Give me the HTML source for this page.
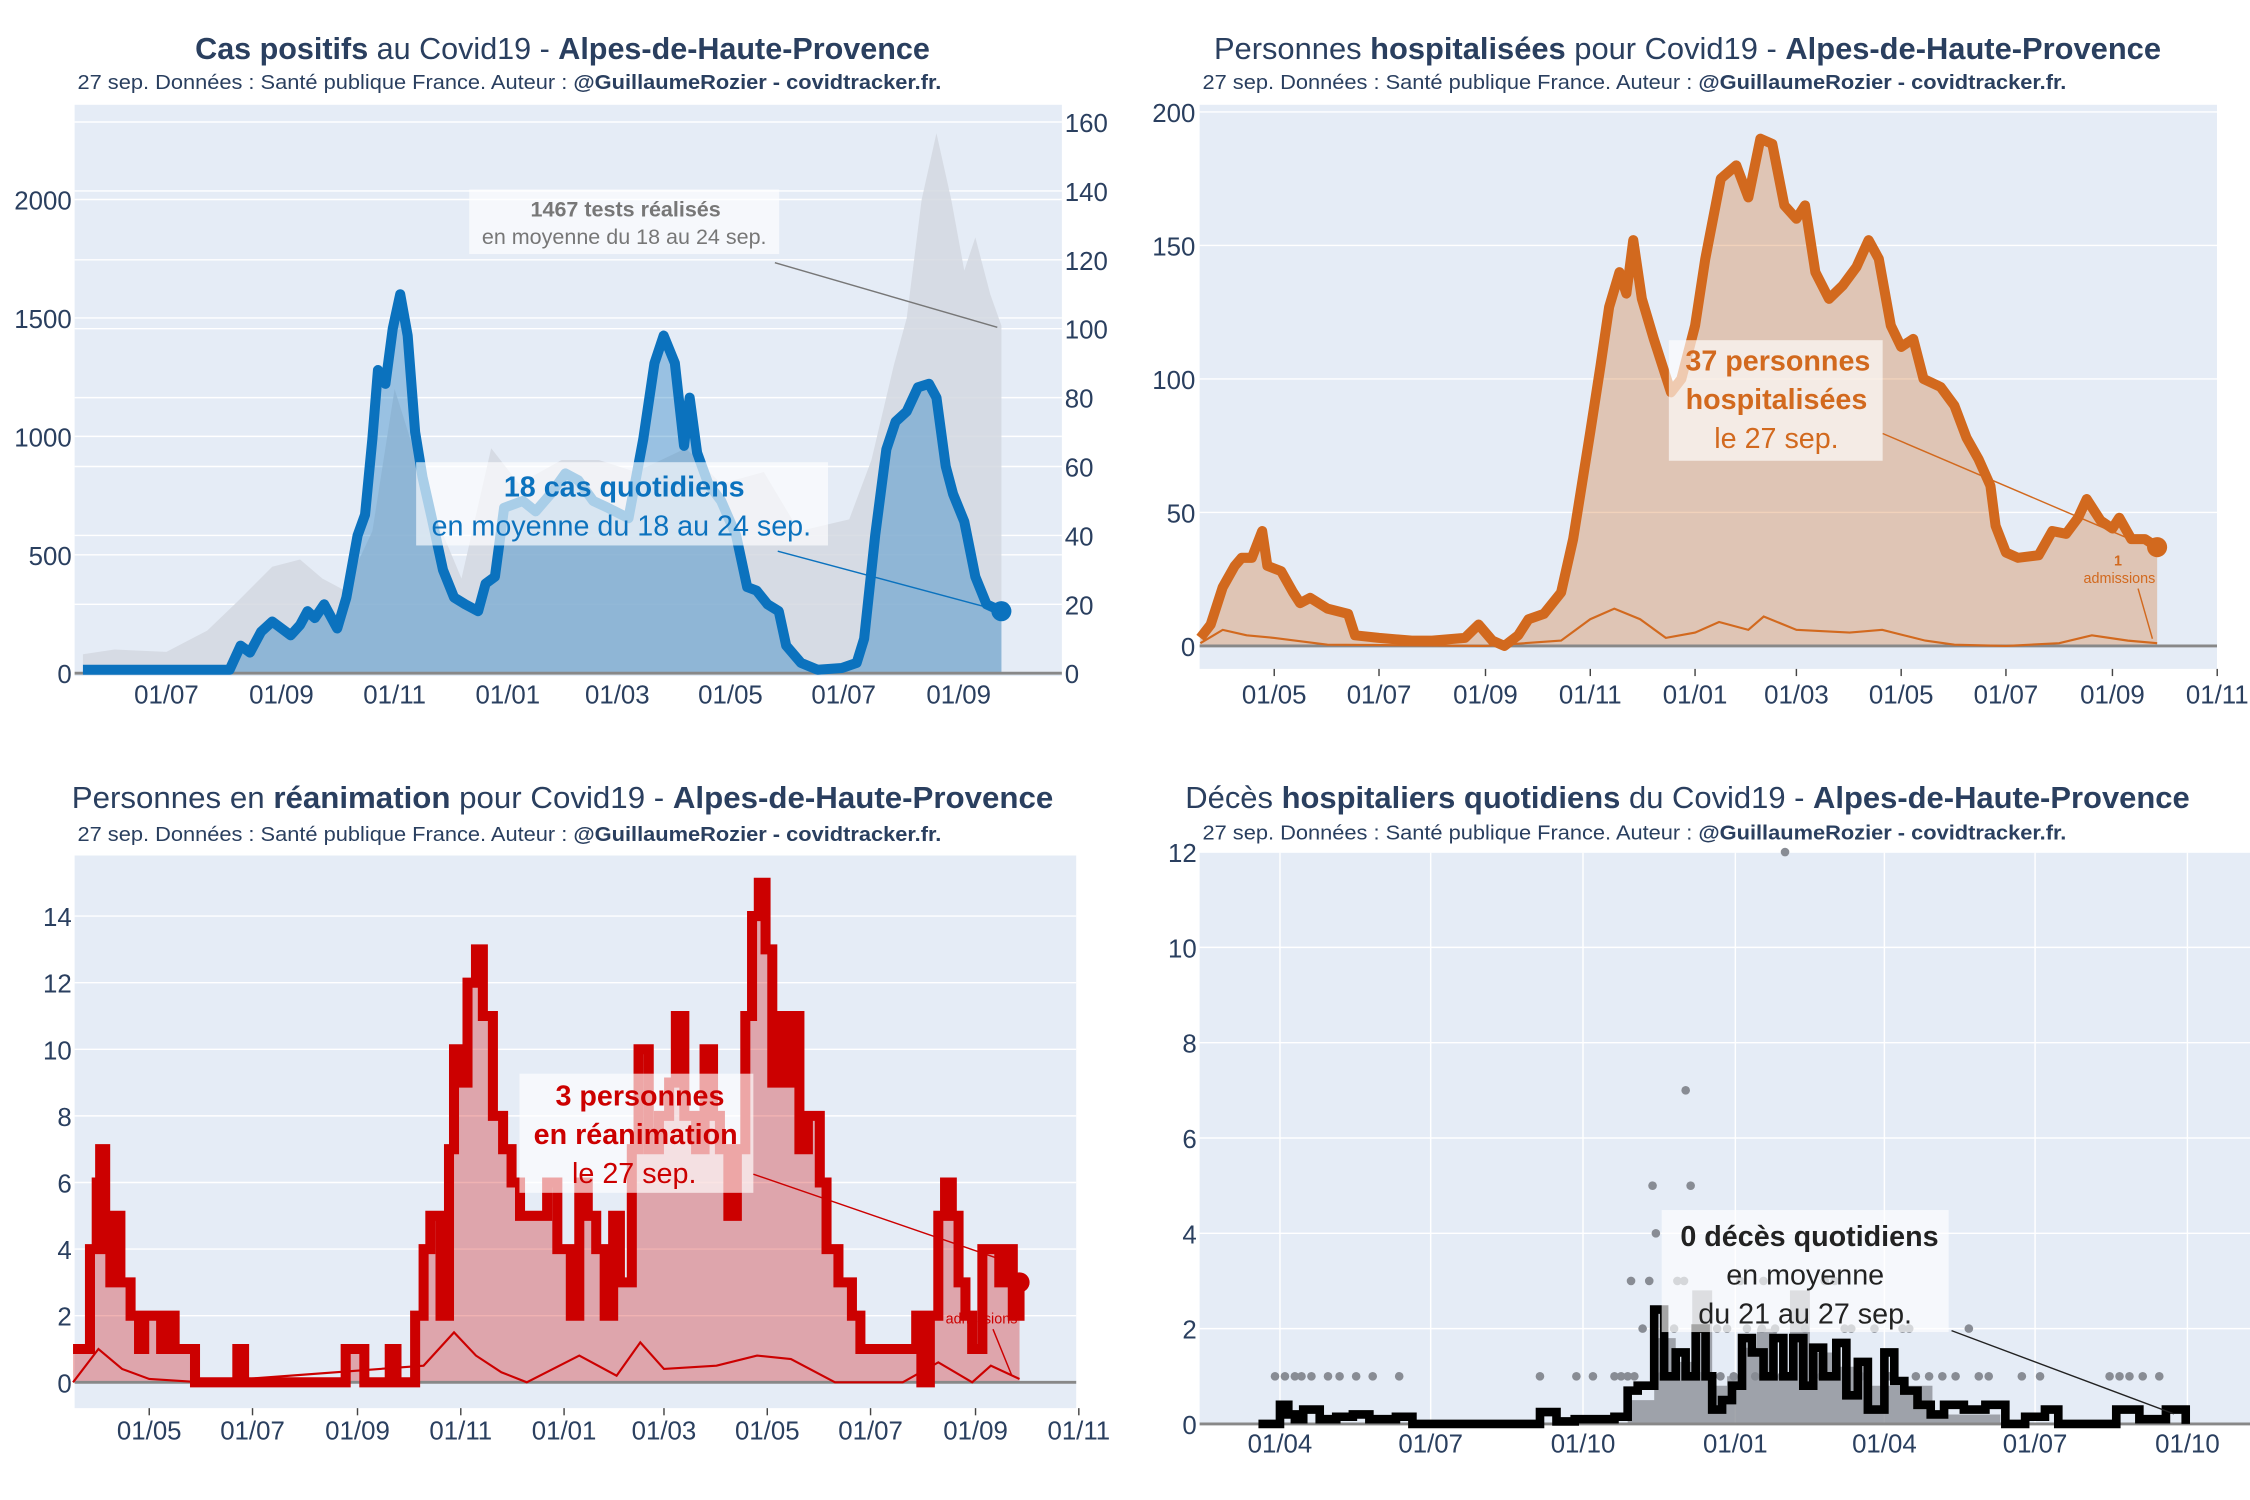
<!DOCTYPE html>
<html><head><meta charset="utf-8">
<style>
html,body{margin:0;padding:0;background:#fff;}
svg{display:block;font-family:"Liberation Sans",sans-serif;}
</style></head>
<body>
<svg id="chart" xmlns="http://www.w3.org/2000/svg" width="2250" height="1500" viewBox="0 0 1568 1045" preserveAspectRatio="none"></svg>
<script>
// ---------- Panel 1 : cas positifs ----------
const casDates = ["2020-05-17","2020-08-04","2020-08-10","2020-08-15","2020-08-21","2020-08-27","2020-09-06","2020-09-11","2020-09-15","2020-09-19","2020-09-24","2020-10-01","2020-10-06","2020-10-12","2020-10-16","2020-10-20","2020-10-23","2020-10-27","2020-10-31","2020-11-04","2020-11-08","2020-11-12","2020-11-16","2020-11-21","2020-11-27","2020-12-03","2020-12-09","2020-12-16","2020-12-20","2020-12-25","2020-12-30","2021-01-09","2021-01-16","2021-01-24","2021-02-01","2021-02-08","2021-02-16","2021-02-24","2021-03-07","2021-03-15","2021-03-21","2021-03-26","2021-04-01","2021-04-06","2021-04-09","2021-04-13","2021-04-19","2021-04-26","2021-05-04","2021-05-10","2021-05-15","2021-05-21","2021-05-27","2021-05-31","2021-06-08","2021-06-17","2021-06-30","2021-07-08","2021-07-12","2021-07-18","2021-07-24","2021-07-29","2021-08-04","2021-08-10","2021-08-16","2021-08-20","2021-08-25","2021-08-29","2021-09-04","2021-09-10","2021-09-16","2021-09-24"];
const casValues = [1,1,8,6,12,15,11,14,18,16,20,13,22,40,46,68,88,84,100,110,98,70,57,45,30,22,20,18,26,28,48,50,47,52,58,56,50,48,45,68,90,98,90,66,80,64,55,50,40,25,24,20,18,8,3,1,1.5,3,10,40,65,73,76,83,84,80,60,52,44,28,20,18];
const testDates = ["2020-05-17","2020-06-03","2020-07-01","2020-07-23","2020-08-08","2020-08-27","2020-09-11","2020-09-23","2020-10-05","2020-10-20","2020-11-01","2020-11-21","2020-12-07","2020-12-23","2021-01-07","2021-01-30","2021-02-19","2021-03-11","2021-04-07","2021-04-26","2021-05-19","2021-06-07","2021-07-04","2021-07-16","2021-07-28","2021-08-04","2021-08-12","2021-08-20","2021-08-28","2021-09-04","2021-09-10","2021-09-18","2021-09-24"];
const testValues = [80,100,90,180,300,450,480,400,350,600,1200,700,400,950,800,900,900,850,950,800,850,600,650,900,1300,1500,2000,2280,2000,1700,1840,1600,1467];
const p1LeftTicks = [0,500,1000,1500,2000];
const p1RightTicks = [0,20,40,60,80,100,120,140,160];
const p1XTicks = ["2020-07-01","2020-09-01","2020-11-01","2021-01-01","2021-03-01","2021-05-01","2021-07-01","2021-09-01"];

// ---------- Panel 2 : hospitalisations ----------
const hospDates = ["2020-03-19","2020-03-25","2020-04-01","2020-04-08","2020-04-12","2020-04-18","2020-04-24","2020-04-27","2020-05-05","2020-05-12","2020-05-16","2020-05-22","2020-06-01","2020-06-13","2020-06-17","2020-07-01","2020-07-20","2020-08-01","2020-08-20","2020-08-28","2020-09-05","2020-09-12","2020-09-20","2020-09-26","2020-10-05","2020-10-15","2020-10-22","2020-11-01","2020-11-07","2020-11-12","2020-11-18","2020-11-22","2020-11-26","2020-12-01","2020-12-08","2020-12-18","2020-12-24","2021-01-01","2021-01-07","2021-01-16","2021-01-25","2021-02-01","2021-02-08","2021-02-15","2021-02-22","2021-03-01","2021-03-06","2021-03-12","2021-03-20","2021-03-28","2021-04-05","2021-04-12","2021-04-18","2021-04-25","2021-05-01","2021-05-08","2021-05-14","2021-05-24","2021-06-01","2021-06-08","2021-06-15","2021-06-22","2021-06-25","2021-07-01","2021-07-08","2021-07-20","2021-07-28","2021-08-05","2021-08-12","2021-08-17","2021-08-25","2021-09-01","2021-09-05","2021-09-12","2021-09-20","2021-09-27"];
const hospValues = [3,8,22,30,33,33,43,30,28,20,16,18,14,12,4,3,2,2,3,8,2,0,4,10,12,20,40,80,105,127,140,132,152,130,115,95,100,120,145,175,180,168,190,188,165,160,165,140,130,135,142,152,145,120,112,115,100,97,90,78,70,60,45,35,33,34,43,42,48,55,47,44,48,40,40,37];
const admDates = ["2020-03-19","2020-04-01","2020-04-15","2020-05-01","2020-06-01","2020-09-01","2020-10-15","2020-11-01","2020-11-15","2020-11-30","2020-12-15","2021-01-01","2021-01-15","2021-02-01","2021-02-10","2021-03-01","2021-04-01","2021-04-20","2021-05-15","2021-06-01","2021-07-01","2021-08-01","2021-08-20","2021-09-10","2021-09-27"];
const admValues = [1,6,4,3,0.5,0,2,10,14,10,3,5,9,6,11,6,5,6,2,0.5,0,1,4,2,1];
const p2YTicks = [0,50,100,150,200];
const p2XTicks = ["2020-05-01","2020-07-01","2020-09-01","2020-11-01","2021-01-01","2021-03-01","2021-05-01","2021-07-01","2021-09-01","2021-11-01"];

// ---------- Panel 3 : réanimation ----------
const reaDates = ["2020-03-17","2020-03-27","2020-03-31","2020-04-02","2020-04-05","2020-04-08","2020-04-10","2020-04-14","2020-04-20","2020-04-25","2020-04-28","2020-05-08","2020-05-12","2020-05-16","2020-05-28","2020-06-22","2020-06-26","2020-08-25","2020-09-05","2020-09-20","2020-09-24","2020-10-05","2020-10-10","2020-10-14","2020-10-20","2020-10-25","2020-10-28","2020-11-02","2020-11-05","2020-11-10","2020-11-14","2020-11-20","2020-11-26","2020-12-01","2020-12-06","2020-12-22","2020-12-28","2021-01-05","2021-01-10","2021-01-15","2021-01-20","2021-01-25","2021-01-30","2021-02-03","2021-02-10","2021-02-14","2021-02-20","2021-02-26","2021-03-04","2021-03-08","2021-03-13","2021-03-20","2021-03-25","2021-03-30","2021-04-03","2021-04-08","2021-04-13","2021-04-18","2021-04-22","2021-04-26","2021-04-30","2021-05-04","2021-05-08","2021-05-12","2021-05-16","2021-05-20","2021-05-25","2021-06-01","2021-06-05","2021-06-12","2021-06-20","2021-06-25","2021-07-25","2021-07-28","2021-07-31","2021-08-05","2021-08-10","2021-08-14","2021-08-18","2021-08-22","2021-08-26","2021-08-30","2021-09-05","2021-09-15","2021-09-20","2021-09-23","2021-09-27"];
const reaValues = [1,4,6,7,4,3,5,3,2,1,2,1,2,1,0,1,0,1,0,1,0,2,4,5,2,7,10,9,12,13,11,8,7,6,5,6,4,2,6,5,4,2,5,3,7,10,7,8,9,11,8,7,10,8,7,5,7,11,14,15,13,9,11,9,11,7,8,6,4,3,2,1,1,2,0,2,5,6,5,3,2,1,4,3,4,2,3];
const reaAdmDates = ["2020-03-17","2020-04-01","2020-04-15","2020-05-01","2020-06-01","2020-10-10","2020-10-28","2020-11-10","2020-11-25","2020-12-10","2021-01-10","2021-02-01","2021-02-15","2021-03-01","2021-04-01","2021-04-25","2021-05-15","2021-06-10","2021-07-20","2021-08-10","2021-08-30","2021-09-10","2021-09-27"];
const reaAdmValues = [0,1,0.4,0.1,0,0.5,1.5,0.8,0.3,0,0.8,0.2,1.2,0.4,0.5,0.8,0.7,0,0,0.6,0,0.5,0.1];
const p3YTicks = [0,2,4,6,8,10,12,14];
const p3XTicks = ["2020-05-01","2020-07-01","2020-09-01","2020-11-01","2021-01-01","2021-03-01","2021-05-01","2021-07-01","2021-09-01","2021-11-01"];

// ---------- Panel 4 : décès ----------
const dcDates = ["2020-03-19","2020-03-27","2020-04-01","2020-04-06","2020-04-10","2020-04-15","2020-04-25","2020-05-05","2020-05-15","2020-05-25","2020-06-10","2020-06-20","2020-08-19","2020-09-05","2020-09-15","2020-09-26","2020-10-08","2020-10-20","2020-10-28","2020-11-03","2020-11-13","2020-11-19","2020-11-26","2020-12-02","2020-12-08","2020-12-14","2020-12-18","2020-12-24","2020-12-30","2021-01-05","2021-01-11","2021-01-18","2021-01-24","2021-01-30","2021-02-05","2021-02-11","2021-02-17","2021-02-23","2021-03-03","2021-03-09","2021-03-16","2021-03-22","2021-04-01","2021-04-07","2021-04-13","2021-04-21","2021-04-29","2021-05-07","2021-05-19","2021-06-01","2021-06-13","2021-06-25","2021-07-07","2021-07-15","2021-08-13","2021-08-19","2021-09-02","2021-09-18","2021-09-30"];
const dcValues = [0,0,0.4,0.2,0.1,0.3,0.1,0.15,0.2,0.1,0.15,0,0,0.25,0.05,0.1,0.1,0.15,0.7,0.8,2.4,1,1.5,1,2,1,0.3,0.5,0.8,1.8,1.5,1,1.8,1,1.8,0.8,1.6,1,1.7,0.6,1.3,0.3,1.5,0.9,0.7,0.4,0.2,0.4,0.3,0.4,0,0.15,0.3,0,0,0.3,0.1,0.3,0];
const dcAreaDates = ["2020-10-15","2020-10-28","2020-11-13","2020-11-26","2020-12-06","2020-12-12","2020-12-18","2020-12-27","2021-01-05","2021-01-14","2021-01-26","2021-02-03","2021-02-09","2021-02-15","2021-03-03","2021-03-20","2021-04-10","2021-04-30","2021-06-10"];
const dcAreaValues = [0,0.5,1.8,1.3,2.8,2.8,0.8,1,1.6,2,1,2.8,2.8,1.5,1.2,0.8,0.8,0.2,0];
const dotDates = ["2020-03-29","2020-04-04","2020-04-10","2020-04-14","2020-04-20","2020-04-30","2020-05-07","2020-05-17","2020-05-27","2020-06-12","2020-09-05","2020-09-27","2020-10-07","2020-10-20","2020-10-24","2020-10-28","2020-11-01","2020-11-17","2020-12-11","2020-12-23","2020-12-31","2021-01-13","2021-01-29","2021-02-22","2021-03-18","2021-04-04","2021-04-20","2021-04-28","2021-05-06","2021-05-14","2021-05-28","2021-06-03","2021-06-23","2021-07-04","2021-08-15","2021-08-21","2021-08-27","2021-09-04","2021-09-14","2020-11-06","2020-11-13","2020-11-25","2020-12-21","2020-12-27","2021-01-08","2021-01-17","2021-01-25","2021-02-12","2021-03-08","2021-03-12","2021-03-26","2021-04-12","2021-04-16","2021-05-22","2020-10-30","2020-11-10","2020-11-27","2020-12-01","2021-01-04","2021-01-18","2021-02-24","2021-03-02","2020-11-14","2020-11-12","2020-12-05","2020-12-02","2021-01-31"];
const dotValues = [1,1,1,1,1,1,1,1,1,1,1,1,1,1,1,1,1,1,1,1,1,1,1,1,1,1,1,1,1,1,1,1,1,1,1,1,1,1,1,2,2,2,2,2,2,2,2,2,2,2,2,2,2,2,3,3,3,3,3,3,3,3,4,5,5,7,12];
const p4YTicks = [0,2,4,6,8,10,12];
const p4XTicks = ["2020-04-01","2020-07-01","2020-10-01","2021-01-01","2021-04-01","2021-07-01","2021-10-01"];

// ---------- helpers ----------
const NS = 'http://www.w3.org/2000/svg';
const svg = document.getElementById('chart');
function day(s){ return Date.UTC(+s.slice(0,4), +s.slice(5,7)-1, +s.slice(8,10))/864e5; }
function fmt(s){ return s.slice(8,10)+'/'+s.slice(5,7); }
function mk(tag, attrs, name, parent){
  const el = document.createElementNS(NS, tag);
  for (const k in attrs) el.setAttribute(k, attrs[k]);
  
  
  (parent || svg).appendChild(el);
  return el;
}
function txt(x, y, s, size, color, anchor, name, weight){
  const t = mk('text', {x:x, y:y, 'font-size':size, fill:color, 'text-anchor':anchor||'start', 'font-weight':weight||'normal'}, name);
  t.textContent = s;
  return t;
}
function pathD(dates, vals, X, Y, step){
  let d = '';
  for (let i=0;i<dates.length;i++){
    const x = X(dates[i]), y = Y(vals[i]);
    if (i===0) d += 'M'+x.toFixed(1)+','+y.toFixed(1);
    else if (step) d += 'H'+x.toFixed(1)+'V'+y.toFixed(1);
    else d += 'L'+x.toFixed(1)+','+y.toFixed(1);
  }
  return d;
}
function areaD(dates, vals, X, Y, step, base){
  return pathD(dates, vals, X, Y, step) + 'L'+X(dates[dates.length-1]).toFixed(1)+','+base+'L'+X(dates[0]).toFixed(1)+','+base+'Z';
}
function title(cx, y, parts, len, name){
  const t = mk('text', {x:cx, y:y, 'font-size':21, fill:'#2a3f5f', 'text-anchor':'middle', textLength:len, lengthAdjust:'spacingAndGlyphs'}, name);
  parts.forEach(p=>{ const s=document.createElementNS(NS,'tspan'); s.setAttribute('font-weight', p[1]?'bold':'normal'); s.textContent=p[0]; t.appendChild(s); });
}
function subtitle(x, y, name){
  const t = mk('text', {x:x, y:y, 'font-size':14, fill:'#2a3f5f', textLength:602, lengthAdjust:'spacingAndGlyphs'}, name);
  const a=document.createElementNS(NS,'tspan'); a.textContent='27 sep. Données : Santé publique France. Auteur : '; t.appendChild(a);
  const b=document.createElementNS(NS,'tspan'); b.setAttribute('font-weight','bold'); b.textContent='@GuillaumeRozier - covidtracker.fr.'; t.appendChild(b);
}
function box(x,y,w,h,name){ mk('rect',{x:x,y:y,width:w,height:h,fill:'#ffffff','fill-opacity':0.65},name); }

// ================= PANEL 1 =================
(function(){
  const X = d => 116 + (day(d)-day('2020-07-01'))*1.293;
  const YL = v => 469 - v*0.165;
  const YR = v => 469 - v*2.4;
  title(392, 41, [['Cas positifs',1],[' au Covid19 - ',0],['Alpes-de-Haute-Provence',1]], 512, 'cases-title');
  subtitle(54, 62, 'cases-subtitle');
  mk('rect',{x:52,y:73,width:688,height:398,fill:'#e5ecf6'},'cases-plot-bg');
  p1RightTicks.forEach(v=>{ mk('line',{x1:52,x2:740,y1:YR(v),y2:YR(v),stroke:'#fff','stroke-width':1},'cases-gridline-right');
    txt(742, YR(v)+7, String(v), 18, '#2a3f5f', 'start', 'cases-right-tick'); });
  p1LeftTicks.forEach(v=>{ mk('line',{x1:52,x2:740,y1:YL(v),y2:YL(v),stroke:'#fff','stroke-width':1},'cases-gridline-left');
    txt(50, YL(v)+7, String(v), 18, '#2a3f5f', 'end', 'cases-left-tick'); });
  mk('path',{d:areaD(testDates,testValues,X,YL,false,469),fill:'#d3d8e0','fill-opacity':0.85},'tests-area');
  mk('path',{d:areaD(casDates,casValues,X,YR,false,469),fill:'#0b72be','fill-opacity':0.35},'cases-area');
  mk('line',{x1:52,x2:740,y1:469,y2:469,stroke:'#888','stroke-width':2},'cases-zero-line');
  mk('path',{d:pathD(casDates,casValues,X,YR,false),fill:'none',stroke:'#0b72be','stroke-width':7,'stroke-linejoin':'round'},'cases-line');
  const ld=casDates.length-1;
  mk('circle',{cx:X(casDates[ld]),cy:YR(casValues[ld]),r:7,fill:'#0b72be'},'cases-last-point');
  p1XTicks.forEach(d=> txt(X(d), 490, fmt(d), 18, '#2a3f5f', 'middle', 'cases-x-tick'));
  box(327,132,216,45,'tests-annotation-box');
  txt(436,151,'1467 tests réalisés',15,'#777','middle','tests-annotation-title','bold');
  txt(435,170,'en moyenne du 18 au 24 sep.',15,'#777','middle','tests-annotation-text');
  mk('line',{x1:540,y1:183,x2:695,y2:228,stroke:'#777','stroke-width':1},'tests-annotation-arrow');
  box(290,322,287,58,'cases-annotation-box');
  txt(435,346,'18 cas quotidiens',20,'#0b72be','middle','cases-annotation-title','bold');
  txt(433,373,'en moyenne du 18 au 24 sep.',20,'#0b72be','middle','cases-annotation-text');
  mk('line',{x1:542,y1:384,x2:695,y2:425,stroke:'#0b72be','stroke-width':1},'cases-annotation-arrow');
})();

// ================= PANEL 2 =================
(function(){
  const X = d => 888 + (day(d)-day('2020-05-01'))*1.197;
  const Y = v => 450 - v*1.86;
  const C = '#d2691e';
  title(1176, 41, [['Personnes ',0],['hospitalisées',1],[' pour Covid19 - ',0],['Alpes-de-Haute-Provence',1]], 660, 'hosp-title');
  subtitle(838, 62, 'hosp-subtitle');
  mk('rect',{x:836,y:73,width:709,height:393,fill:'#e5ecf6'},'hosp-plot-bg');
  p2YTicks.forEach(v=>{ mk('line',{x1:836,x2:1545,y1:Y(v),y2:Y(v),stroke:'#fff','stroke-width':1},'hosp-gridline');
    txt(833, Y(v)+7, String(v), 18, '#2a3f5f', 'end', 'hosp-y-tick'); });
  mk('path',{d:areaD(hospDates,hospValues,X,Y,false,450),fill:C,'fill-opacity':0.3},'hosp-area');
  mk('line',{x1:836,x2:1545,y1:450,y2:450,stroke:'#888','stroke-width':2},'hosp-zero-line');
  mk('path',{d:pathD(admDates,admValues,X,Y,false),fill:'none',stroke:C,'stroke-width':1.5},'hosp-admissions-line');
  mk('path',{d:pathD(hospDates,hospValues,X,Y,false),fill:'none',stroke:C,'stroke-width':7,'stroke-linejoin':'round'},'hosp-line');
  const ld=hospDates.length-1;
  mk('circle',{cx:X(hospDates[ld]),cy:Y(hospValues[ld]),r:7,fill:C},'hosp-last-point');
  p2XTicks.forEach(d=>{ mk('line',{x1:X(d),x2:X(d),y1:466,y2:471,stroke:'#444','stroke-width':1},'hosp-x-tickmark');
    txt(X(d), 490, fmt(d), 18, '#2a3f5f', 'middle', 'hosp-x-tick'); });
  box(1163,237,149,84,'hosp-annotation-box');
  txt(1239,258,'37 personnes',20,C,'middle','hosp-annotation-title','bold');
  txt(1238,285,'hospitalisées',20,C,'middle','hosp-annotation-title-2','bold');
  txt(1238,312,'le 27 sep.',20,C,'middle','hosp-annotation-text');
  mk('line',{x1:1312,y1:302,x2:1490,y2:378,stroke:C,'stroke-width':1},'hosp-annotation-arrow');
  txt(1476,394,'1',10,C,'middle','admissions-annotation-value','bold');
  txt(1477,406,'admissions',10,C,'middle','admissions-annotation-text');
  mk('line',{x1:1490,y1:410,x2:1500,y2:445,stroke:C,'stroke-width':1},'admissions-annotation-arrow');
})();

// ================= PANEL 3 =================
(function(){
  const X = d => 104 + (day(d)-day('2020-05-01'))*1.18;
  const Y = v => 963 - v*23.2;
  const C = '#cc0000';
  title(392, 563, [['Personnes en ',0],['réanimation',1],[' pour Covid19 - ',0],['Alpes-de-Haute-Provence',1]], 684, 'rea-title');
  subtitle(54, 586, 'rea-subtitle');
  mk('rect',{x:52,y:596,width:698,height:385,fill:'#e5ecf6'},'rea-plot-bg');
  p3YTicks.forEach(v=>{ mk('line',{x1:52,x2:750,y1:Y(v),y2:Y(v),stroke:'#fff','stroke-width':1},'rea-gridline');
    txt(50, Y(v)+7, String(v), 18, '#2a3f5f', 'end', 'rea-y-tick'); });
  mk('path',{d:areaD(reaDates,reaValues,X,Y,true,963),fill:C,'fill-opacity':0.3},'rea-area');
  mk('line',{x1:52,x2:750,y1:963,y2:963,stroke:'#888','stroke-width':2},'rea-zero-line');
  mk('path',{d:pathD(reaAdmDates,reaAdmValues,X,Y,false),fill:'none',stroke:C,'stroke-width':1.5},'rea-admissions-line');
  mk('path',{d:pathD(reaDates,reaValues,X,Y,true),fill:'none',stroke:C,'stroke-width':7,'stroke-linejoin':'miter'},'rea-line');
  const ld=reaDates.length-1;
  mk('circle',{cx:X(reaDates[ld]),cy:Y(reaValues[ld]),r:7,fill:C},'rea-last-point');
  p3XTicks.forEach(d=>{ mk('line',{x1:X(d),x2:X(d),y1:981,y2:986,stroke:'#444','stroke-width':1},'rea-x-tickmark');
    txt(X(d), 1003, fmt(d), 18, '#2a3f5f', 'middle', 'rea-x-tick'); });
  box(362,748,163,83,'rea-annotation-box');
  txt(446,770,'3 personnes',20,C,'middle','rea-annotation-title','bold');
  txt(443,797,'en réanimation',20,C,'middle','rea-annotation-title-2','bold');
  txt(442,824,'le 27 sep.',20,C,'middle','rea-annotation-text');
  mk('line',{x1:525,y1:818,x2:705,y2:880,stroke:C,'stroke-width':1},'rea-annotation-arrow');
  txt(684,922,'admissions',10,C,'middle','rea-admissions-annotation');
  mk('line',{x1:692,y1:926,x2:705,y2:958,stroke:C,'stroke-width':1},'rea-admissions-arrow');
})();

// ================= PANEL 4 =================
(function(){
  const X = d => 892 + (day(d)-day('2020-04-01'))*1.154;
  const Y = v => 992 - v*33.2;
  title(1176, 563, [['Décès ',0],['hospitaliers quotidiens',1],[' du Covid19 - ',0],['Alpes-de-Haute-Provence',1]], 700, 'deaths-title');
  subtitle(838, 585, 'deaths-subtitle');
  mk('rect',{x:836,y:594,width:732,height:399,fill:'#e5ecf6'},'deaths-plot-bg');
  p4YTicks.forEach(v=>{ mk('line',{x1:836,x2:1568,y1:Y(v),y2:Y(v),stroke:'#fff','stroke-width':1},'deaths-gridline');
    txt(834, Y(v)+7, String(v), 18, '#2a3f5f', 'end', 'deaths-y-tick'); });
  p4XTicks.forEach(d=>{ mk('line',{x1:X(d),x2:X(d),y1:594,y2:992,stroke:'#fff','stroke-width':1},'deaths-vgridline'); });
  mk('path',{d:areaD(dcAreaDates,dcAreaValues,X,Y,true,992),fill:'#8c9097','fill-opacity':0.8},'deaths-area');
  mk('line',{x1:836,x2:1568,y1:992,y2:992,stroke:'#888','stroke-width':2},'deaths-zero-line');
  for (let i=0;i<dotDates.length;i++){
    mk('circle',{cx:X(dotDates[i]),cy:Y(dotValues[i]),r:3,fill:'#888c94'},'deaths-daily-dot');
  }
  mk('path',{d:pathD(dcDates,dcValues,X,Y,true),fill:'none',stroke:'#000','stroke-width':6},'deaths-line');
  p4XTicks.forEach(d=> txt(X(d), 1012, fmt(d), 18, '#2a3f5f', 'middle', 'deaths-x-tick'));
  box(1158,843,200,85,'deaths-annotation-box');
  txt(1261,868,'0 décès quotidiens',20,'#222','middle','deaths-annotation-title','bold');
  txt(1258,895,'en moyenne',20,'#222','middle','deaths-annotation-text');
  txt(1258,922,'du 21 au 27 sep.',20,'#222','middle','deaths-annotation-text-2');
  mk('line',{x1:1360,y1:927,x2:1515,y2:985,stroke:'#222','stroke-width':1},'deaths-annotation-arrow');
})();
</script>
</body></html>
